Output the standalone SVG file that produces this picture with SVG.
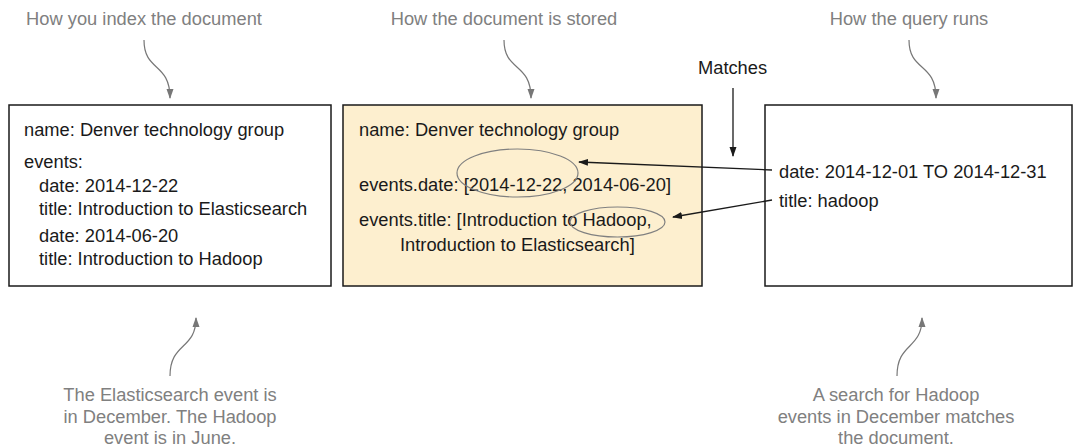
<svg xmlns="http://www.w3.org/2000/svg" width="1080" height="448" viewBox="0 0 1080 448">
<defs>
<style>
.t{font-family:"Liberation Sans",Arial,sans-serif;font-size:18.3px;fill:#1a1a1a}
.g{font-family:"Liberation Sans",Arial,sans-serif;font-size:18.3px;fill:#808080}
.box{stroke:#1a1a1a;stroke-width:1.5}
.conn{fill:none;stroke:#1a1a1a;stroke-width:1.3}
.note{fill:none;stroke:#777777;stroke-width:1.2}
.ell{fill:none;stroke:#808080;stroke-width:1.2}
</style>
<marker id="ah" viewBox="0 0 10 10" refX="9" refY="5" markerWidth="10" markerHeight="10" markerUnits="userSpaceOnUse" orient="auto">
<path d="M0,1.5 L10,5 L0,8.5 Z" fill="#1a1a1a"/>
</marker>
<marker id="gh" viewBox="0 0 10 10" refX="9" refY="5" markerWidth="10" markerHeight="10" markerUnits="userSpaceOnUse" orient="auto">
<path d="M0,1.5 L10,5 L0,8.5 Z" fill="#777777"/>
</marker>
</defs>
<rect width="1080" height="448" fill="#ffffff"/>

<g id="note-index">
<text class="g" x="144" y="25" text-anchor="middle">How you index the document</text>
<path class="note" d="M144,40 C144,72 170,62 170,98" marker-end="url(#gh)"/>
</g>
<g id="note-stored">
<text class="g" x="504" y="25" text-anchor="middle">How the document is stored</text>
<path class="note" d="M504,40 C504,72 531,62 531,98" marker-end="url(#gh)"/>
</g>
<g id="note-query">
<text class="g" x="909" y="25" text-anchor="middle">How the query runs</text>
<path class="note" d="M909,40 C909,72 936,62 936,98" marker-end="url(#gh)"/>
</g>

<g id="doc-indexed">
<rect class="box" x="9" y="105" width="322" height="181" fill="#ffffff"/>
<text class="t" x="24" y="136">name: Denver technology group</text>
<text class="t" x="24" y="168">events:</text>
<text class="t" x="39" y="192">date: 2014-12-22</text>
<text class="t" x="39" y="215">title: Introduction to Elasticsearch</text>
<text class="t" x="39" y="242">date: 2014-06-20</text>
<text class="t" x="39" y="265">title: Introduction to Hadoop</text>
</g>

<g id="doc-stored">
<rect class="box" x="343" y="105" width="359" height="181" fill="#fdefcf"/>
<text class="t" x="359" y="136">name: Denver technology group</text>
<text class="t" x="359" y="191">events.date: [2014-12-22, 2014-06-20]</text>
<text class="t" x="359" y="226">events.title: [Introduction to Hadoop,</text>
<text class="t" x="400" y="251">Introduction to Elasticsearch]</text>
<ellipse class="ell" cx="517.5" cy="173" rx="60.5" ry="24"/>
<ellipse class="ell" cx="617.5" cy="222" rx="47.5" ry="15"/>
</g>

<g id="query">
<rect class="box" x="765" y="105" width="307" height="181" fill="#ffffff"/>
<text class="t" x="779" y="178">date: 2014-12-01 TO 2014-12-31</text>
<text class="t" x="779" y="207">title: hadoop</text>
</g>

<g id="matches">
<text class="t" x="698" y="74">Matches</text>
</g>

<g id="connectors">
<line class="conn" x1="733" y1="88" x2="733" y2="156" marker-end="url(#ah)"/>
<line class="conn" x1="772" y1="170" x2="579" y2="162" marker-end="url(#ah)"/>
<line class="conn" x1="772" y1="200" x2="673" y2="217" marker-end="url(#ah)"/>
</g>

<g id="note-december">
<path class="note" d="M170,376 C170,342 196,350 196,318" marker-end="url(#gh)"/>
<text class="g" text-anchor="middle"><tspan x="170" y="401">The Elasticsearch event is</tspan><tspan x="170" y="423">in December. The Hadoop</tspan><tspan x="170" y="444">event is in June.</tspan></text>
</g>
<g id="note-search">
<path class="note" d="M897,376 C897,342 922,350 922,318" marker-end="url(#gh)"/>
<text class="g" text-anchor="middle"><tspan x="896" y="401">A search for Hadoop</tspan><tspan x="896" y="423">events in December matches</tspan><tspan x="896" y="444">the document.</tspan></text>
</g>
</svg>
